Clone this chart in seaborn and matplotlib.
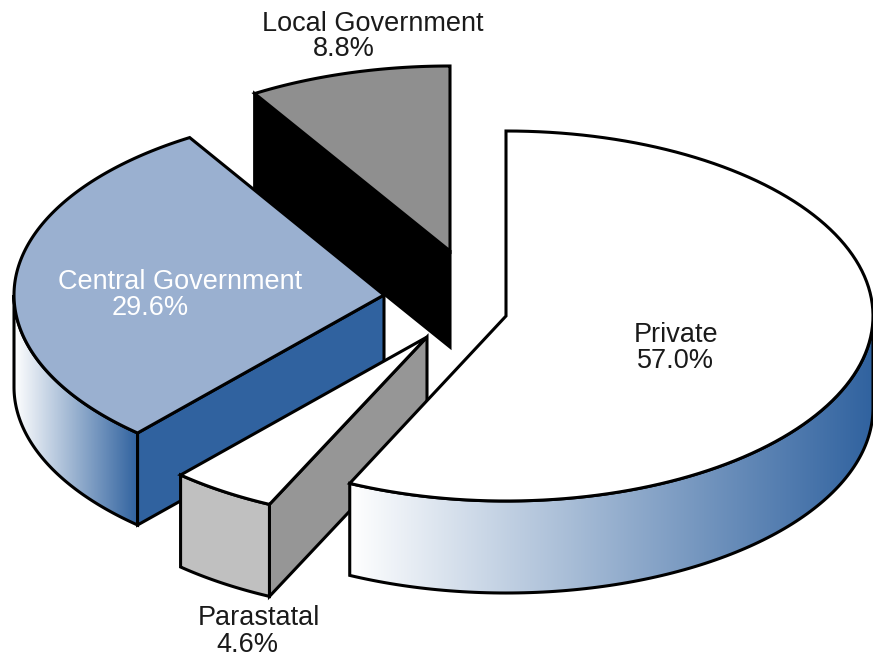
import numpy as np
import seaborn as sns
import matplotlib
matplotlib.use('Agg')
import matplotlib.pyplot as plt
from matplotlib.patches import Polygon

sns.set_style('white')
plt.rcParams['font.family'] = ['Liberation Sans', 'DejaVu Sans']

# slices go clockwise from twelve o'clock
sectors = ['Private', 'Parastatal', 'Central Government', 'Local Government']
shares = [57.0, 4.6, 29.6, 8.8]

# pie layout, in pixels of the 873x662 picture
apex = {'Private': (506, 316), 'Parastatal': (427, 337),
        'Central Government': (384, 295), 'Local Government': (450, 251)}
radii = {'Private': (367, 185), 'Parastatal': (370, 185),
         'Central Government': (370, 185), 'Local Government': (372, 185)}
depth = 92
line = 2.2

blue = '#30629f'
fade = sns.blend_palette(['white', blue], as_cmap=True)

edges = 90 - 3.6 * np.cumsum([0] + shares)
start = dict(zip(sectors, edges[:-1]))
stop = dict(zip(sectors, edges[1:]))


def arc(name, a0, a1):
    t = np.radians(np.linspace(a0, a1, 120))
    rx, ry = radii[name]
    x0, y0 = apex[name]
    return np.column_stack([x0 + rx * np.cos(t), y0 - ry * np.sin(t)])


def poly(ax, pts, color):
    p = Polygon(pts, closed=True, facecolor=color, edgecolor='black', linewidth=line, joinstyle='miter')
    ax.add_patch(p)
    return p


def top_face(ax, name, color):
    pts = np.vstack([[apex[name]], arc(name, start[name], stop[name])])
    poly(ax, pts, color)


def cut_face(ax, name, angle, color, drop=depth):
    rim = arc(name, angle, angle)[0]
    pts = np.array([rim, apex[name], np.add(apex[name], (0, drop)), rim + (0, drop)])
    poly(ax, pts, color)


def rim_face(ax, name, a0, a1, color=None):
    top = arc(name, a0, a1)
    pts = np.vstack([top, (top + (0, depth))[::-1]])
    if color is not None:
        poly(ax, pts, color)
        return
    # gradient runs left to right across the outer wall
    p = Polygon(pts, closed=True, facecolor='none', edgecolor='none')
    ax.add_patch(p)
    im = ax.imshow(np.linspace(0, 1, 256)[None, :], cmap=fade, aspect='auto', zorder=1,
                   extent=(pts[:, 0].min(), pts[:, 0].max(), pts[:, 1].max(), pts[:, 1].min()))
    im.set_clip_path(p)
    poly(ax, pts, 'none')


fig = plt.figure(figsize=(8.73, 6.62), dpi=100)
ax = fig.add_axes([0, 0, 1, 1])

# back to front, the later slices hide the lower parts of the earlier ones
name = 'Local Government'
cut_face(ax, name, start[name], 'black', drop=96)
top_face(ax, name, '#8f8f8f')

name = 'Central Government'
rim_face(ax, name, start[name], -180)
cut_face(ax, name, start[name], blue)
top_face(ax, name, '#9ab0d0')

name = 'Parastatal'
cut_face(ax, name, start[name], '#969696')
rim_face(ax, name, start[name], stop[name], '#c0c0c0')
top_face(ax, name, 'white')

name = 'Private'
rim_face(ax, name, 0, stop[name])
top_face(ax, name, 'white')

ax.set_xlim(0, 873)
ax.set_ylim(662, 0)
ax.axis('off')

label_pos = {'Private': [(676, 335), (675, 361)],
             'Parastatal': [(259, 618), (247, 645)],
             'Central Government': [(180, 282), (150, 308)],
             'Local Government': [(373, 24), (344, 49)]}
for name, share in zip(sectors, shares):
    color = 'white' if name == 'Central Government' else '#1a1a1a'
    lines = [name, f'{share:.1f}%']
    for text, (x, y) in zip(lines, label_pos[name]):
        ax.text(x, y, text, ha='center', va='center', fontsize=19.5, color=color)

fig.savefig('out.png', dpi=100)
